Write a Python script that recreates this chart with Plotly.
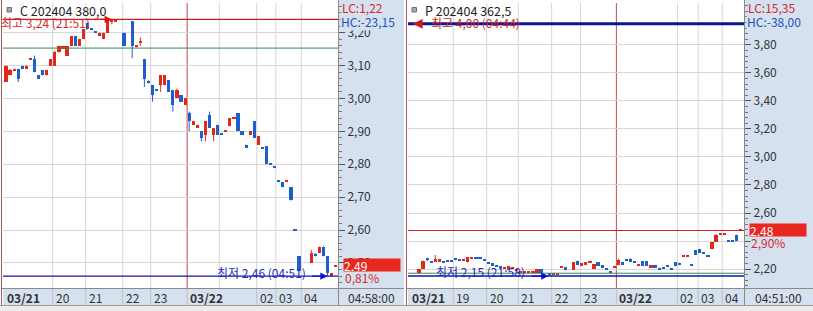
import plotly.graph_objects as go

W, H = 813, 311

# ---------------- Left panel data : C 202404 380,0 ----------------
c_slot = [0, 1, 2, 3, 4, 5, 6, 7, 8, 9, 10, 11, 12, 13, 14, 15, 16, 17, 18, 19,
          20, 21, 22, 23, 24, 25, 26, 27, 29, 31, 32, 33, 34, 35, 36, 37, 38, 39,
          40, 41, 42, 43, 44, 45, 46, 47, 48, 49, 50, 51, 52, 53, 54, 55, 56, 57,
          58, 59, 60, 61, 62, 63, 64, 65, 66, 67, 68, 69, 70, 71, 72, 75, 76, 77,
          78, 79, 80, 81]
c_open = [3.05, 3.07, 3.084, 3.09, 3.10, 3.09, 3.119, 3.12, 3.07, 3.085, 3.07, 3.10,
          3.10, 3.14, 3.15, 3.13, 3.16, 3.19, 3.16, 3.18, 3.23, 3.211, 3.201, 3.19,
          3.18, 3.20, 3.233, 3.234, 3.20, 3.235, 3.155, 3.17, 3.12, 3.052, 3.04,
          3.026, 3.04, 3.04, 3.055, 3.025, 3.00, 3.01, 2.98, 2.955, 2.92, 2.91,
          2.90, 2.89, 2.95, 2.89, 2.92, 2.891, 2.899, 2.915, 2.939, 2.955, 2.90,
          2.86, 2.89, 2.93, 2.86, 2.851, 2.855, 2.801, 2.791, 2.751, 2.745, 2.749,
          2.73, 2.601, 2.52, 2.50, 2.526, 2.53, 2.55, 2.52, 2.46, 2.489]
c_high = [3.10, 3.09, 3.086, 3.09, 3.10, 3.10, 3.121, 3.13, 3.07, 3.085, 3.085, 3.12,
          3.145, 3.16, 3.16, 3.16, 3.19, 3.19, 3.18, 3.21, 3.23, 3.211, 3.201, 3.20,
          3.20, 3.24, 3.24, 3.236, 3.20, 3.235, 3.162, 3.185, 3.12, 3.055, 3.04,
          3.026, 3.07, 3.07, 3.055, 3.025, 3.03, 3.01, 3.00, 2.96, 2.93, 2.92,
          2.90, 2.93, 2.96, 2.91, 2.92, 2.891, 2.901, 2.94, 2.941, 2.955, 2.90,
          2.86, 2.90, 2.93, 2.885, 2.851, 2.855, 2.801, 2.791, 2.751, 2.745, 2.751,
          2.73, 2.601, 2.52, 2.54, 2.53, 2.55, 2.55, 2.52, 2.47, 2.491]
c_low = [3.05, 3.07, 3.084, 3.05, 3.09, 3.09, 3.119, 3.08, 3.06, 3.07, 3.07, 3.10,
         3.10, 3.14, 3.15, 3.13, 3.16, 3.16, 3.16, 3.18, 3.21, 3.209, 3.199, 3.19,
         3.18, 3.20, 3.225, 3.234, 3.16, 3.122, 3.155, 3.16, 3.035, 3.045, 2.99,
         3.024, 3.02, 3.04, 3.02, 2.96, 3.00, 2.99, 2.98, 2.90, 2.92, 2.91,
         2.87, 2.87, 2.91, 2.87, 2.89, 2.889, 2.899, 2.915, 2.939, 2.90, 2.89,
         2.85, 2.89, 2.88, 2.86, 2.849, 2.80, 2.799, 2.789, 2.749, 2.73, 2.749,
         2.69, 2.599, 2.475, 2.50, 2.52, 2.53, 2.52, 2.46, 2.46, 2.489]
c_close = [3.10, 3.085, 3.086, 3.06, 3.09, 3.10, 3.121, 3.08, 3.06, 3.07, 3.085, 3.12,
           3.14, 3.16, 3.16, 3.16, 3.19, 3.16, 3.18, 3.21, 3.21, 3.209, 3.199, 3.20,
           3.20, 3.235, 3.235, 3.236, 3.16, 3.16, 3.162, 3.175, 3.06, 3.048, 3.01,
           3.024, 3.07, 3.07, 3.02, 2.98, 3.025, 2.99, 3.00, 2.93, 2.93, 2.92,
           2.88, 2.93, 2.91, 2.91, 2.89, 2.889, 2.901, 2.94, 2.941, 2.90, 2.89,
           2.85, 2.90, 2.88, 2.885, 2.849, 2.80, 2.799, 2.789, 2.749, 2.73, 2.751,
           2.69, 2.599, 2.475, 2.53, 2.524, 2.55, 2.52, 2.47, 2.47, 2.491]
c_hour_slot = [11.47, 19.58, 28.67, 35.55, 44.5, 52.4, 61.6, 66.3, 72.55]
c_hour_label = ["20", "21", "22", "23", "03/22", "", "02", "03", "04"]
c_yticks = [2.5, 2.6, 2.7, 2.8, 2.9, 3.0, 3.1, 3.2]
c_max_val, c_max_slot, c_max_text = 3.24, 26, "최고 3,24 (21:51)"
c_min_val, c_min_slot, c_min_text = 2.46, 79, "최저 2,46 (04:51)"
c_green = 3.153
c_last, c_last_txt, c_pct = 2.493, "2,49", "0,81%"
c_lc, c_hc, c_time, c_title = "LC:1,22", "HC:-23,15", "04:58:00", "C 202404 380,0"

# ---------------- Right panel data : P 202404 362,5 ----------------
p_slot = list(range(0, 31)) + [32, 33, 34, 35, 36] + list(range(38, 80))
p_open = [2.175, 2.20, 2.272, 2.255, 2.25, 2.25, 2.25, 2.259, 2.259, 2.275, 2.266,
          2.258, 2.247, 2.278, 2.278, 2.278, 2.266, 2.242, 2.24, 2.222, 2.212, 2.205,
          2.195, 2.205, 2.188, 2.173, 2.173, 2.173, 2.173, 2.175, 2.20,
          2.165, 2.160, 2.160, 2.212, 2.215,
          2.193, 2.26, 2.225, 2.228, 2.245, 2.198, 2.247, 2.228, 2.20, 2.182, 2.208,
          2.228, 2.252, 2.262, 2.27, 2.249, 2.226, 2.257, 2.257, 2.21, 2.23, 2.21,
          2.207, 2.219, 2.202, 2.247, 2.245, 2.286, 2.29, 2.23, 2.335, 2.342, 2.313,
          2.294, 2.342, 2.394, 2.444, 2.444, 2.402, 2.402, 2.446, 2.473]
p_high = [2.20, 2.26, 2.28, 2.255, 2.30, 2.27, 2.25, 2.259, 2.259, 2.275, 2.266,
          2.262, 2.283, 2.282, 2.278, 2.278, 2.266, 2.242, 2.24, 2.222, 2.212, 2.215,
          2.22, 2.215, 2.192, 2.177, 2.177, 2.177, 2.177, 2.20, 2.20,
          2.165, 2.164, 2.164, 2.216, 2.215,
          2.25, 2.26, 2.24, 2.25, 2.249, 2.233, 2.247, 2.228, 2.20, 2.182, 2.212,
          2.275, 2.252, 2.262, 2.277, 2.249, 2.23, 2.257, 2.257, 2.226, 2.23, 2.21,
          2.207, 2.219, 2.202, 2.247, 2.245, 2.29, 2.294, 2.23, 2.335, 2.342, 2.313,
          2.294, 2.394, 2.45, 2.448, 2.448, 2.402, 2.402, 2.446, 2.477]
p_low = [2.175, 2.20, 2.255, 2.245, 2.25, 2.25, 2.244, 2.255, 2.255, 2.262, 2.262,
         2.258, 2.247, 2.278, 2.274, 2.274, 2.262, 2.238, 2.228, 2.218, 2.208, 2.205,
         2.195, 2.205, 2.188, 2.173, 2.173, 2.173, 2.173, 2.175, 2.17,
         2.15, 2.160, 2.160, 2.212, 2.19,
         2.193, 2.228, 2.225, 2.228, 2.245, 2.198, 2.224, 2.21, 2.196, 2.178, 2.208,
         2.228, 2.228, 2.258, 2.252, 2.245, 2.226, 2.224, 2.224, 2.21, 2.21, 2.193,
         2.203, 2.215, 2.198, 2.219, 2.228, 2.286, 2.29, 2.226, 2.30, 2.316, 2.309,
         2.29, 2.342, 2.394, 2.444, 2.444, 2.398, 2.398, 2.40, 2.473]
p_close = [2.20, 2.26, 2.268, 2.248, 2.275, 2.27, 2.244, 2.255, 2.255, 2.265, 2.262,
           2.262, 2.283, 2.282, 2.274, 2.274, 2.262, 2.238, 2.228, 2.218, 2.208, 2.215,
           2.22, 2.215, 2.192, 2.177, 2.177, 2.177, 2.177, 2.20, 2.17,
           2.158, 2.164, 2.164, 2.216, 2.19,
           2.25, 2.228, 2.24, 2.25, 2.249, 2.233, 2.224, 2.21, 2.196, 2.178, 2.212,
           2.264, 2.228, 2.258, 2.252, 2.245, 2.23, 2.224, 2.224, 2.226, 2.21, 2.193,
           2.203, 2.215, 2.198, 2.219, 2.228, 2.29, 2.294, 2.226, 2.30, 2.316, 2.309,
           2.29, 2.394, 2.441, 2.448, 2.448, 2.398, 2.398, 2.40, 2.477]
p_hour_slot = [8.43, 16.63, 24.4, 32.6, 39.7, 48.5, 63.5, 68.6, 74.5]
p_hour_label = ["19", "20", "21", "22", "23", "03/22", "02", "03", "04"]
p_yticks = [2.2, 2.4, 2.6, 2.8, 3.0, 3.2, 3.4, 3.6, 3.8]
p_max_val, p_max_slot, p_max_text = 3.95, -1.5, "최고 4,00 (04:44)"
p_min_val, p_min_slot, p_min_text = 2.15, 31.8, "최저 2,15 (21:58)"
p_green, p_redline = 2.17, 2.475
p_last, p_last_txt, p_pct = 2.477, "2,48", "2,90%"
p_lc, p_hc, p_time, p_title = "LC:15,35", "HC:-38,00", "04:51:00", "P 202404 362,5"

# ---------------- styling ----------------
FONT = "Noto Sans CJK KR"
RED, BLUE = "#e0281c", "#1f5fc9"
TXT_RED, TXT_BLUE = "#d42a2a", "#1f50c0"
STRIP = "#d5e1ef"
GRID = "#d6d6d6"


def px2x(p):
    return p / W


def px2y(p):
    return 1 - p / H


fig = go.Figure()
shapes, annos = [], []


def add_candles(xa, ya, slot, o, h, l, c, eps):
    cols = [RED if cc >= oo else BLUE for oo, cc in zip(o, c)]
    base = [min(oo, cc) for oo, cc in zip(o, c)]
    hgt = [max(abs(cc - oo), eps) for oo, cc in zip(o, c)]
    for colr in (RED, BLUE):
        xs, ys = [], []
        for s, hh, ll, cl in zip(slot, h, l, cols):
            if cl == colr and hh - ll > eps:
                xs += [s, s, None]
                ys += [ll, hh, None]
        fig.add_trace(go.Scatter(x=xs, y=ys, mode="lines", xaxis=xa, yaxis=ya,
                                 line=dict(color=colr, width=1), hoverinfo="skip"))
    fig.add_trace(go.Bar(x=slot, y=hgt, base=base, width=0.78, xaxis=xa, yaxis=ya,
                         marker=dict(color=cols, line=dict(width=0)), hoverinfo="skip"))


add_candles("x", "y", c_slot, c_open, c_high, c_low, c_close, 1 / 329)
add_candles("x2", "y2", p_slot, p_open, p_high, p_low, p_close, 1 / 140)

ydom = [px2y(288), px2y(3)]
axis_common = dict(showticklabels=False, showgrid=False, zeroline=False, fixedrange=True)
yax_common = dict(side="right", ticks="outside", ticklen=6, tickwidth=1, tickcolor="#555",
                  tickformat=".2f", showgrid=True, gridcolor=GRID, gridwidth=1,
                  zeroline=False, showline=False, fixedrange=True,
                  tickfont=dict(family=FONT, size=12, color="#333"))

fig.update_layout(
    width=W, height=H, margin=dict(l=0, r=0, t=0, b=0),
    paper_bgcolor="white", plot_bgcolor="white", showlegend=False,
    separators=",.", barmode="overlay", bargap=0,
    font=dict(family=FONT, size=12, color="#333"),
    xaxis=dict(domain=[px2x(3), px2x(338)], range=[-0.74, 81.57], anchor="y", **axis_common),
    yaxis=dict(domain=ydom, range=[2.424, 3.290], anchor="x", tickmode="array",
               tickvals=c_yticks,
               minor=dict(ticks="outside", ticklen=3, tickcolor="#777", dtick=0.02,
                          tick0=2.4, showgrid=False), **yax_common),
    xaxis2=dict(domain=[px2x(408), px2x(744)], range=[-2.70, 79.86], anchor="y2", **axis_common),
    yaxis2=dict(domain=ydom, range=[2.0646, 4.099], anchor="x2", tickmode="array",
                tickvals=p_yticks,
                minor=dict(ticks="outside", ticklen=3, tickcolor="#777", dtick=0.04,
                           tick0=2.2, showgrid=False), **yax_common),
)


def panel_decor(xa, ya, left_px, right_px, strip_right, hour_slot, hour_label,
                title, lc, hc, tm, last, last_txt, pct):
    # strips
    shapes.append(dict(type="rect", xref="paper", yref="paper", layer="below",
                       x0=px2x(right_px), x1=px2x(strip_right), y0=px2y(305), y1=px2y(0),
                       fillcolor=STRIP, line=dict(width=0)))
    shapes.append(dict(type="rect", xref="paper", yref="paper", layer="below",
                       x0=px2x(left_px), x1=px2x(right_px), y0=px2y(305), y1=px2y(288),
                       fillcolor=STRIP, line=dict(width=0)))
    shapes.append(dict(type="line", xref="paper", yref="paper",
                       x0=px2x(right_px + 0.5), x1=px2x(right_px + 0.5), y0=px2y(305), y1=px2y(0),
                       line=dict(color="#8a8a8a", width=1)))
    shapes.append(dict(type="line", xref="paper", yref="paper",
                       x0=px2x(left_px - 1), x1=px2x(strip_right), y0=px2y(288.5), y1=px2y(288.5),
                       line=dict(color="#8a8a8a", width=1)))
    # vertical hour grid lines + strip dividers + labels
    for s, lab in zip(hour_slot, hour_label):
        is_day = "/" in lab
        shapes.append(dict(type="line", xref=xa, yref="paper", layer="below",
                           x0=s, x1=s, y0=px2y(288), y1=px2y(3),
                           line=dict(color="#c04848" if is_day else GRID, width=1)))
        if lab:
            shapes.append(dict(type="line", xref=xa, yref="paper",
                               x0=s, x1=s, y0=px2y(305), y1=px2y(289),
                               line=dict(color="#b9c3d1", width=1)))
            annos.append(dict(x=s, xref=xa, y=px2y(297), yref="paper", xanchor="left",
                              yanchor="middle", xshift=1, showarrow=False,
                              text=("<b>%s</b>" % lab) if is_day else lab,
                              font=dict(size=12, color="#333")))
    # first date label
    date0 = "03/21"
    annos.append(dict(x=px2x(left_px + 2), xref="paper", y=px2y(297), yref="paper",
                      xanchor="left", yanchor="middle", showarrow=False,
                      text="<b>%s</b>" % date0, font=dict(size=12, color="#333")))
    # title + icon
    shapes.append(dict(type="rect", xref="paper", yref="paper",
                       x0=px2x(left_px + 4), x1=px2x(left_px + 8.5), y0=px2y(12), y1=px2y(7.5),
                       fillcolor="#a8a8a8", line=dict(color="#707070", width=1)))
    annos.append(dict(x=px2x(left_px + 15), xref="paper", y=px2y(10), yref="paper",
                      xanchor="left", yanchor="middle", showarrow=False, text=title,
                      font=dict(size=12.5, color="#222")))
    # strip texts (LC drawn after HC so it stays on top)
    annos.append(dict(x=px2x(right_px + 2), xref="paper", y=px2y(21.5), yref="paper",
                      xanchor="left", yanchor="middle", showarrow=False, text=hc,
                      font=dict(size=12, color=TXT_BLUE), bgcolor=STRIP, borderpad=0))
    annos.append(dict(x=px2x(right_px + 2), xref="paper", y=px2y(8), yref="paper",
                      xanchor="left", yanchor="middle", showarrow=False, text=lc,
                      font=dict(size=12, color=TXT_RED)))
    annos.append(dict(x=px2x(right_px + 6), xref="paper", y=last, yref=ya, yshift=-12,
                      xanchor="left", yanchor="middle", showarrow=False, text=pct,
                      align="left", width=50, bgcolor=STRIP, borderpad=0,
                      font=dict(size=12, color=TXT_RED)))
    annos.append(dict(x=px2x(right_px + 5), xref="paper", y=last, yref=ya,
                      xanchor="left", yanchor="middle", showarrow=False, text=last_txt,
                      align="left", width=56, height=12, bgcolor="#e8281e", borderpad=0,
                      font=dict(size=12, color="white")))
    annos.append(dict(x=px2x((right_px + strip_right) / 2), xref="paper", y=px2y(297),
                      yref="paper", xanchor="center", yanchor="middle", showarrow=False,
                      text=tm, font=dict(size=12, color="#333")))


panel_decor("x", "y", 3, 338, 404, c_hour_slot, c_hour_label, c_title, c_lc, c_hc,
            c_time, c_last, c_last_txt, c_pct)
panel_decor("x2", "y2", 408, 744, 813, p_hour_slot, p_hour_label, p_title, p_lc, p_hc,
            p_time, p_last, p_last_txt, p_pct)


def hline(xa, ya, val, color, width):
    shapes.append(dict(type="line", xref=xa + " domain", yref=ya, x0=0, x1=1, y0=val, y1=val,
                       line=dict(color=color, width=width)))


# left reference lines
hline("x", "y", c_max_val, "#c81e1e", 1.3)
hline("x", "y", c_green, "#3c8a50", 1)
hline("x", "y", c_min_val, "#1414b0", 1.3)
# right reference lines
hline("x2", "y2", p_max_val, "#0c1890", 3)
hline("x2", "y2", p_redline, "#d02020", 1.2)
hline("x2", "y2", p_green, "#3c8a50", 1)
hline("x2", "y2", p_min_val, "#1414b0", 1.5)

# max / min markers
annos.append(dict(x=c_max_slot, xref="x", y=c_max_val, yref="y", ax=-19, ay=0, text="",
                  showarrow=True, arrowhead=2, arrowsize=1.2, arrowwidth=1.2,
                  arrowcolor="#e01010"))
annos.append(dict(x=c_max_slot, xref="x", y=c_max_val, yref="y", xshift=-20, yshift=-3,
                  xanchor="right", yanchor="middle", showarrow=False, text=c_max_text,
                  font=dict(size=12, color=TXT_RED)))
annos.append(dict(x=c_min_slot, xref="x", y=c_min_val, yref="y", ax=-17, ay=0, text="",
                  showarrow=True, arrowhead=2, arrowsize=1.2, arrowwidth=1.2,
                  arrowcolor="#1010d0"))
annos.append(dict(x=c_min_slot, xref="x", y=c_min_val, yref="y", xshift=-20, yshift=4,
                  xanchor="right", yanchor="middle", showarrow=False, text=c_min_text,
                  font=dict(size=12, color="#1a2cc0")))
annos.append(dict(x=p_max_slot, xref="x2", y=p_max_val, yref="y2", ax=10, ay=0, text="",
                  showarrow=True, arrowhead=2, arrowsize=1.3, arrowwidth=1.5,
                  arrowcolor="#d01818"))
annos.append(dict(x=p_max_slot, xref="x2", y=p_max_val, yref="y2", xshift=16, yshift=1,
                  xanchor="left", yanchor="middle", showarrow=False, text=p_max_text,
                  font=dict(size=12, color=TXT_RED)))
annos.append(dict(x=p_min_slot, xref="x2", y=p_min_val, yref="y2", ax=-18, ay=0, text="",
                  showarrow=True, arrowhead=2, arrowsize=1.2, arrowwidth=1.2,
                  arrowcolor="#1010d0"))
annos.append(dict(x=p_min_slot, xref="x2", y=p_min_val, yref="y2", xshift=-21, yshift=5,
                  xanchor="right", yanchor="middle", showarrow=False, text=p_min_text,
                  font=dict(size=12, color="#1a2cc0")))

# outer borders and bottom toolbar
for xp in (1.5, 406.5):
    shapes.append(dict(type="line", xref="paper", yref="paper", x0=px2x(xp), x1=px2x(xp),
                       y0=px2y(305), y1=px2y(0), line=dict(color="#a85a5a", width=1)))
shapes.append(dict(type="rect", xref="paper", yref="paper", x0=0, x1=1, y0=0, y1=px2y(305),
                   fillcolor="#ececec", line=dict(width=0)))
shapes.append(dict(type="line", xref="paper", yref="paper", x0=0, x1=1,
                   y0=px2y(305.5), y1=px2y(305.5), line=dict(color="#9a9a9a", width=1)))

fig.update_layout(shapes=shapes, annotations=annos)
fig.write_html("out.html")
